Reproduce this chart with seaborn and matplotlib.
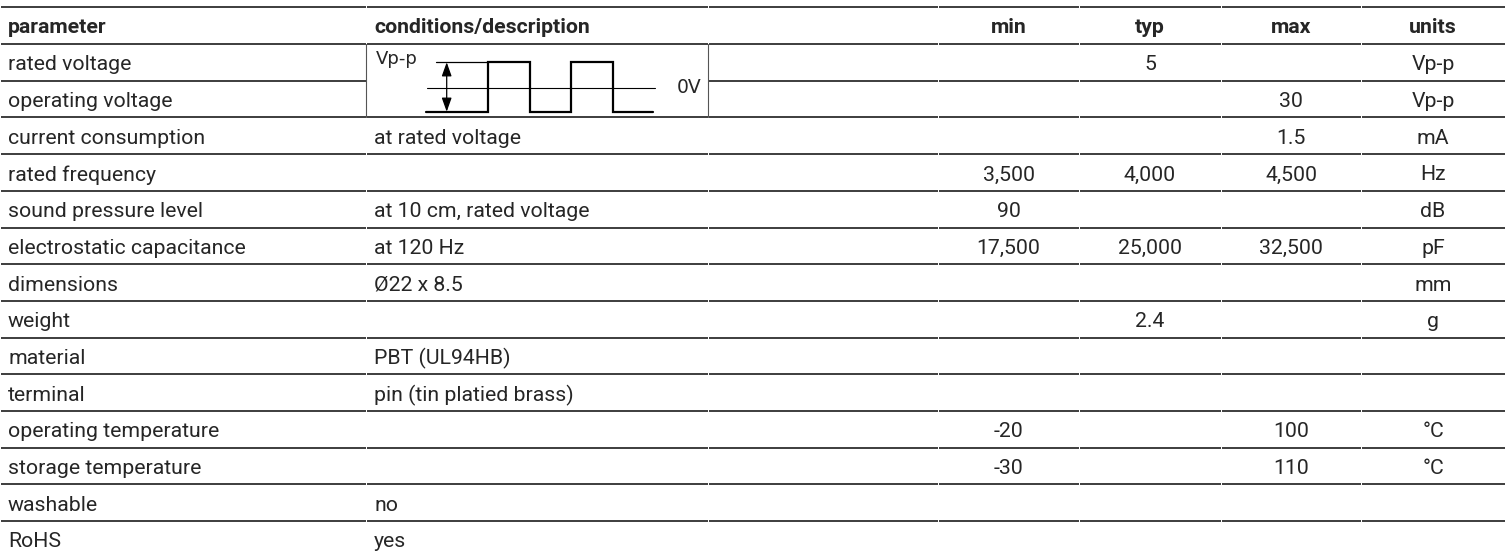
import matplotlib.pyplot as plt
import seaborn as sns
from matplotlib import font_manager

sns.set_theme(style="white")

# table content
headers = ["parameter", "conditions/description", "min", "typ", "max", "units"]
params = ["rated voltage", "operating voltage", "current consumption", "rated frequency",
          "sound pressure level", "electrostatic capacitance", "dimensions", "weight",
          "material", "terminal", "operating temperature", "storage temperature",
          "washable", "RoHS"]
conditions = ["", "", "at rated voltage", "", "at 10 cm, rated voltage", "at 120 Hz",
              "Ø22 x 8.5", "", "PBT (UL94HB)", "pin (tin platied brass)", "", "",
              "no", "yes"]
min_vals = ["", "", "", "3,500", "90", "17,500", "", "", "", "", "-20", "-30", "", ""]
typ_vals = ["5", "", "", "4,000", "", "25,000", "", "2.4", "", "", "", "", "", ""]
max_vals = ["", "30", "1.5", "4,500", "", "32,500", "", "", "", "", "100", "110", "", ""]
units = ["Vp-p", "Vp-p", "mA", "Hz", "dB", "pF", "mm", "g", "", "", "°C", "°C", "", ""]

# square wave sketch in the merged cell (0 = low, 1 = high)
wave_levels = [0, 0, 1, 1, 0, 0, 1, 1, 0, 0]

avail = {f.name for f in font_manager.fontManager.ttflist}
fam = next((f for f in ["Liberation Sans Narrow", "Roboto", "DejaVu Sans"] if f in avail), "DejaVu Sans")
plt.rcParams['font.family'] = [fam, 'DejaVu Sans']

W, H = 1507, 556
fig = plt.figure(figsize=(W / 100, H / 100), dpi=100)
ax = fig.add_axes([0, 0, 1, 1])
ax.set_xlim(0, W)
ax.set_ylim(H, 0)
ax.axis("off")

txt = "#262626"
line_c = "#2e2e2e"
fs = 15.3
col_edges = [0, 366, 708, 938, 1079, 1221, 1361, 1505]
top = 7.3
row_h = 36.7
pad = 8

def row_y(i):
    return top + row_h * i

# horizontal rules, split per cell with a tiny gap
n_rows = len(params) + 1
for i in range(n_rows + 1):
    y = row_y(i)
    for c in range(len(col_edges) - 1):
        if i == 2 and c == 1:
            continue  # merged waveform cell
        ax.plot([col_edges[c] + 0.5, col_edges[c + 1] - 0.5], [y, y],
                color=line_c, lw=1.3, solid_capstyle="butt")

# header
hy = (row_y(0) + row_y(1)) / 2
ax.text(pad, hy, headers[0], ha="left", va="center_baseline", fontsize=fs,
        fontweight="bold", color=txt)
ax.text(col_edges[1] + pad, hy, headers[1], ha="left", va="center_baseline",
        fontsize=fs, fontweight="bold", color=txt)
for k, h in enumerate(headers[2:]):
    cx = (col_edges[k + 3] + col_edges[k + 4]) / 2
    ax.text(cx, hy, h, ha="center", va="center_baseline", fontsize=fs,
            fontweight="bold", color=txt)

# body
for r in range(len(params)):
    cy = (row_y(r + 1) + row_y(r + 2)) / 2 + 0.5
    ax.text(pad, cy, params[r], ha="left", va="center_baseline", fontsize=fs, color=txt)
    ax.text(col_edges[1] + pad, cy, conditions[r], ha="left", va="center_baseline",
            fontsize=fs, color=txt)
    for k, vals in enumerate([min_vals, typ_vals, max_vals, units]):
        cx = (col_edges[k + 3] + col_edges[k + 4]) / 2
        ax.text(cx, cy, vals[r], ha="center", va="center_baseline", fontsize=fs, color=txt)

# merged waveform cell
y0, y1 = row_y(1), row_y(3)
for x in (col_edges[1], col_edges[2]):
    ax.plot([x, x], [y0, y1], color="#555555", lw=0.8)
hi, lo, mid = 62.3, 111.7, 87.7
wx = [426, 488, 488, 530, 530, 571, 571, 613, 613, 653]
wy = [hi if v else lo for v in wave_levels]
ax.plot(wx, wy, color="black", lw=1.6, solid_joinstyle="miter")
ax.plot([436, 488], [hi, hi], color="black", lw=0.9)
ax.plot([427, 655], [mid, mid], color="black", lw=0.8)
ax.annotate("", xy=(446.7, hi), xytext=(446.7, lo),
            arrowprops=dict(arrowstyle="<|-|>,head_length=0.7,head_width=0.25",
                            color="black", lw=0.9, shrinkA=0, shrinkB=0))
ax.text(376, 58.5, "Vp-p", ha="left", va="center", fontsize=13, color=txt,
        family="DejaVu Sans")
ax.text(702, mid, "0V", ha="right", va="center", fontsize=13.5, color=txt,
        family="DejaVu Sans")

fig.savefig("out.png", dpi=100)
